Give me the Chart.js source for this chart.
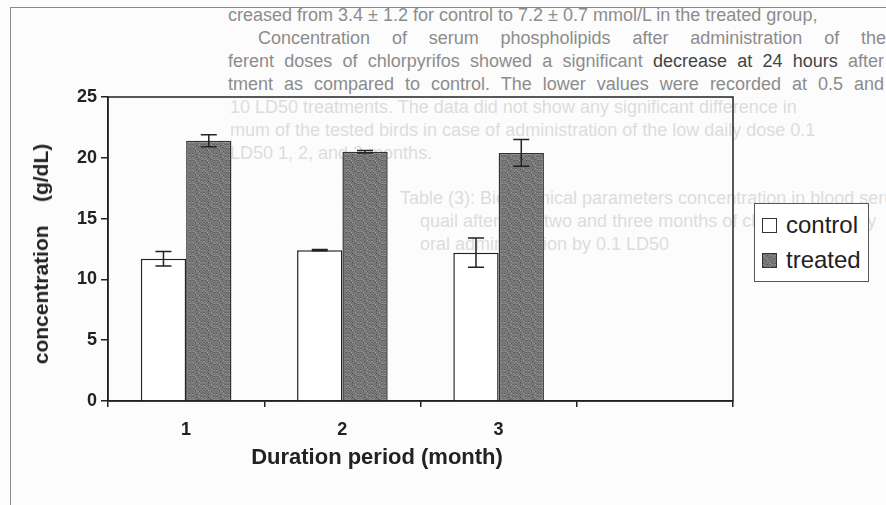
<!DOCTYPE html>
<html>
<head>
<meta charset="utf-8">
<script src="https://cdn.jsdelivr.net/npm/chart.js@4"></script>
<style>
  body { margin: 0; background: #fff; font-family: 'Liberation Sans', Arial, sans-serif; }
  #wrap { position: relative; width: 886px; height: 505px; overflow: hidden; background: #fcfcfc; }
  #frame { position: absolute; left: 10px; top: 7px; right: -2px; bottom: -2px; border-left: 1.5px solid #888; border-top: 1.5px solid #888; }
  .bg { position: absolute; font-size: 18px; line-height: 23px; color: #8c8c8c; white-space: nowrap; }
  .just { text-align: justify; text-align-last: justify; }
  .ghost { position: absolute; font-size: 18px; line-height: 23px; color: #dcdcdc; white-space: nowrap; }
  #chartBox { position: absolute; left: 0; top: 0; width: 886px; height: 505px; }
  #ytitle { position: absolute; left: 41px; top: 254px; transform: translate(-50%, -50%) rotate(-90deg); font-weight: bold; font-size: 21px; white-space: pre; color: #222; }
  #xtitle { position: absolute; left: 377px; top: 457px; transform: translate(-50%, -50%); font-weight: bold; font-size: 22px; white-space: nowrap; color: #222; }
  #legend { position: absolute; left: 754px; top: 203px; width: 113px; height: 77px; border: 1.5px solid #555; background: #fff; font-size: 24px; color: #222; }
  .item { position: absolute; left: 7px; display: flex; align-items: center; }
  .sw { width: 13px; height: 13px; border: 1.5px solid #333; margin-right: 9px; }
</style>
</head>
<body>
<div id="wrap">
  <div id="frame"></div>
  <div class="bg" style="top:4px;left:228px;">creased from 3.4 ± 1.2 for control to 7.2 ± 0.7 mmol/L in the treated group,</div>
  <div class="bg just" style="top:27px;left:258px;width:628px;">Concentration of serum phospholipids after administration of the</div>
  <div class="bg just" style="top:50px;left:228px;width:656px;">ferent doses of chlorpyrifos showed a significant <span style="color:#444">decrease at 24 hours</span> after</div>
  <div class="bg just" style="top:73px;left:228px;width:656px;">tment as compared to control. The lower values were recorded at 0.5 and</div>
  <div class="ghost" style="top:96px;left:230px;">10 LD50 treatments. The data did not show any significant difference in</div>
  <div class="ghost" style="top:119px;left:230px;">mum of the tested birds in case of administration of the low daily dose 0.1</div>
  <div class="ghost" style="top:142px;left:230px;">LD50 1, 2, and 3 months.</div>
  <div class="ghost" style="top:187px;left:400px;">Table (3): Biochemical parameters concentration in blood serum of</div>
  <div class="ghost" style="top:210px;left:420px;">quail after one, two and three months of chlorpyrifos daily</div>
  <div class="ghost" style="top:233px;left:420px;">oral administration by 0.1 LD50</div>
  <div id="chartBox"><canvas id="chart"></canvas></div>
  <div id="ytitle">concentration    (g/dL)</div>
  <div id="xtitle">Duration period (month)</div>
  <div id="legend">
    <div class="item" style="top:7px;"><span class="sw" style="background:#fff"></span>control</div>
    <div class="item" style="top:42px;"><span class="sw" id="sw2" style="background:#7a7a7a"></span>treated</div>
  </div>
</div>
<script>
const categories = ['1', '2', '3', ''];
const controlValues = [11.7, 12.4, 12.2, null];
const treatedValues = [21.4, 20.5, 20.4, null];
const controlErrors = [0.6, 0.05, 1.2, null];
const treatedErrors = [0.5, 0.1, 1.1, null];
const yTicks = [0, 5, 10, 15, 20, 25];

// texture grise pour la serie "treated"
function makeTexture() {
    const c = document.createElement('canvas');
    c.width = 12; c.height = 12;
    const g = c.getContext('2d');
    g.fillStyle = '#767676';
    g.fillRect(0, 0, 12, 12);
    for (let i = 0; i < 12; i++) {
        for (let j = 0; j < 12; j++) {
            const k = (i * 7 + j * 13 + i * j) % 9;
            if (k === 0) { g.fillStyle = '#505050'; g.fillRect(i, j, 1, 1); }
            else if (k === 4) { g.fillStyle = '#a0a0a0'; g.fillRect(i, j, 1, 1); }
        }
    }
    return c;
}
const ctx = document.getElementById('chart').getContext('2d');
const texture = ctx.createPattern(makeTexture(), 'repeat');

const errorBars = {
    id: 'errorBars',
    afterDatasetsDraw(chart) {
        const y = chart.scales.y;
        const g = chart.ctx;
        const errs = [controlErrors, treatedErrors];
        g.save();
        g.strokeStyle = '#222';
        g.lineWidth = 1.5;
        chart.data.datasets.forEach((ds, d) => {
            chart.getDatasetMeta(d).data.forEach((bar, i) => {
                const v = ds.data[i], e = errs[d][i];
                if (v == null || e == null) return;
                const top = y.getPixelForValue(v + e);
                const bot = y.getPixelForValue(v - e);
                g.beginPath();
                g.moveTo(bar.x, top); g.lineTo(bar.x, bot);
                g.moveTo(bar.x - 8, top); g.lineTo(bar.x + 8, top);
                g.moveTo(bar.x - 8, bot); g.lineTo(bar.x + 8, bot);
                g.stroke();
            });
        });
        g.restore();
    }
};

const plotFrame = {
    id: 'plotFrame',
    afterDraw(chart) {
        const a = chart.chartArea;
        const g = chart.ctx;
        g.save();
        g.strokeStyle = '#222';
        g.lineWidth = 1.5;
        g.strokeRect(a.left, a.top, a.right - a.left, a.bottom - a.top);
        g.restore();
    }
};

const tickFont = { family: "'Liberation Sans', Arial, sans-serif", size: 18, weight: 'bold' };

new Chart(ctx, {
    type: 'bar',
    data: {
        labels: categories,
        datasets: [
            { label: 'control', data: controlValues, backgroundColor: '#ffffff', borderColor: '#222', borderWidth: 1.5 },
            { label: 'treated', data: treatedValues, backgroundColor: texture, borderColor: '#333', borderWidth: 1.5 }
        ]
    },
    options: {
        responsive: true,
        maintainAspectRatio: false,
        animation: false,
        categoryPercentage: 0.58,
        barPercentage: 1.0,
        layout: { padding: { left: 0, top: 97, right: 153, bottom: 0 } },
        scales: {
            x: {
                afterFit: s => { s.height = 104; },
                grid: { display: true, drawOnChartArea: false, offset: true, color: '#222', lineWidth: 1.5, tickLength: 6 },
                border: { color: '#222', width: 1.5 },
                ticks: { color: '#222', font: tickFont, padding: 12 }
            },
            y: {
                min: 0, max: 25,
                afterFit: s => { s.width = 108; },
                afterBuildTicks: s => { s.ticks = yTicks.map(v => ({ value: v })); },
                grid: { display: true, drawOnChartArea: false, color: '#222', lineWidth: 1.5, tickLength: 7 },
                border: { color: '#222', width: 1.5 },
                ticks: { color: '#222', font: tickFont, padding: 4 }
            }
        },
        plugins: { legend: { display: false }, tooltip: { enabled: false } }
    },
    plugins: [errorBars, plotFrame]
});
document.getElementById('sw2').style.background = 'url(' + makeTexture().toDataURL() + ')';
</script>
</body>
</html>
